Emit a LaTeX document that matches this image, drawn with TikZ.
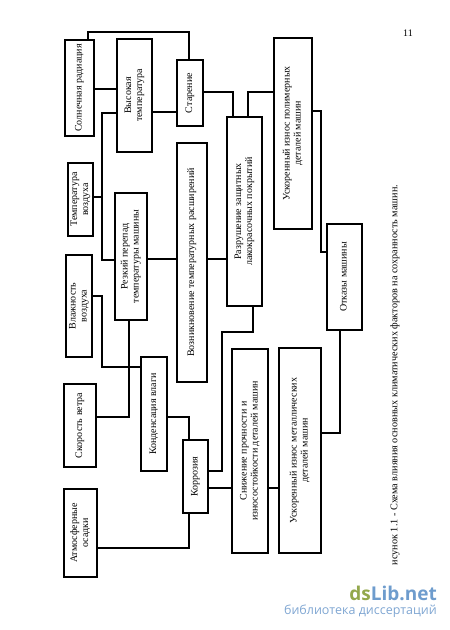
\documentclass[tikz,border=0pt]{standalone}
\usepackage{fontspec}
\setmainfont{Liberation Serif}
\newfontfamily\wmfont{Open Sans}
\usepackage{graphicx}
\definecolor{dsgreen}{HTML}{93A84C}
\definecolor{dsblue}{HTML}{6E9CCD}
\definecolor{dssub}{HTML}{7FA6D2}
\newcommand{\rtext}[1]{\rotatebox{90}{\begin{tabular}{@{}c@{}}#1\end{tabular}}}
\tikzset{
  box/.style={draw, line width=1.2pt, inner sep=0pt, font=\fontsize{10}{11}\selectfont},
  conn/.style={line width=1.2pt},
}
\begin{document}
\begin{tikzpicture}[x=1pt,y=-1pt]
\useasboundingbox (0,0) rectangle (450,630);
% boxes
\node[box, minimum width=29pt, minimum height=96pt] (solar) at (79.5,88) {\rtext{Солнечная радиация}};
\node[box, minimum width=35pt, minimum height=113pt] (high) at (134.5,95.5) {\rtext{Высокая\\температура}};
\node[box, minimum width=26pt, minimum height=66pt] (aging) at (190,93) {\rtext{Старение}};
\node[box, minimum width=30pt, minimum height=239pt] (expan) at (192,262.5) {\rtext{Возникновение температурных расширений}};
\node[box, minimum width=25pt, minimum height=73pt] (airT) at (80.5,199.5) {\rtext{Температура\\воздуха}};
\node[box, minimum width=32pt, minimum height=127pt] (sharp) at (131,256.5) {\rtext{Резкий перепад\\температуры машины}};
\node[box, minimum width=26pt, minimum height=102pt] (humid) at (79,306) {\rtext{Влажность\\воздуха}};
\node[box, minimum width=26pt, minimum height=114pt] (cond) at (154,414) {\rtext{Конденсация влаги}};
\node[box, minimum width=32pt, minimum height=83pt] (wind) at (80,425.5) {\rtext{Скорость ветра}};
\node[box, minimum width=25pt, minimum height=73pt] (corr) at (195.5,476.5) {\rtext{Коррозия}};
\node[box, minimum width=33pt, minimum height=88pt] (precip) at (80.5,533) {\rtext{Атмосферные\\осадки}};
\node[box, minimum width=35pt, minimum height=189pt] (destr) at (244.5,211.5) {\rtext{Разрушение защитных\\лакокрасочных покрытий}};
\node[box, minimum width=38pt, minimum height=191pt] (poly) at (293,133.5) {\rtext{Ускоренный износ полимерных\\деталей машин}};
\node[box, minimum width=35pt, minimum height=106pt] (fail) at (344.5,277) {\rtext{Отказы машины}};
\node[box, minimum width=36pt, minimum height=204pt] (strength) at (250,451) {\rtext{Снижение прочности и\\износостойкости деталей машин}};
\node[box, minimum width=42pt, minimum height=205pt] (metal) at (300,450.5) {\rtext{Ускоренный износ металлических\\деталей машин}};
% connectors
\draw[conn] (solar.north -| 88,0) -- (88,32) -- (189,32) -- (aging.north -| 189,0);
\draw[conn] (solar.east |- 0,89) -- (high.west |- 0,89);
\draw[conn] (high.east |- 0,112) -- (aging.west |- 0,112);
\draw[conn] (high.west |- 0,113) -- (102,113) |- (sharp.west |- 0,260);
\coordinate (j1) at (102,197);
\draw[conn] (airT.east |- j1) -- (j1);
\draw[conn] (aging.east |- 0,92) -| (destr.north -| 233,0);
\draw[conn] (destr.north -| 248,0) |- (poly.west |- 0,92);
\draw[conn] (poly.east |- 0,111) -- (321,111) |- (fail.west |- 0,252);
\draw[conn] (sharp.east |- 0,259) -- (expan.west |- 0,259);
\draw[conn] (expan.east |- 0,259) -- (destr.west |- 0,259);
\draw[conn] (sharp.south -| 129,0) |- (wind.east |- 0,417);
\draw[conn] (humid.east |- 0,296) -- (102,296) |- (cond.west |- 0,367);
\draw[conn] (cond.east |- 0,417) -| (corr.north -| 189,0);
\draw[conn] (corr.south -| 189,0) |- (precip.east |- 0,548);
\draw[conn] (corr.east |- 0,471) -- (222,471) -- (222,332) -| (destr.south -| 253,0);
\draw[conn] (corr.east |- 0,488) -- (strength.west |- 0,488);
\draw[conn] (strength.east |- 0,488) -- (metal.west |- 0,488);
\draw[conn] (metal.east |- 0,433) -| (fail.south -| 340,0);
% texts
\node[font=\fontsize{10}{12}\selectfont] (pg) at (408,33) {11};
\node[rotate=90, inner sep=0pt, font=\fontsize{10.2}{12}\selectfont] (cap) at (395,375) {исунок 1.1 - Схема влияния основных климатических факторов на сохранность машин.};
\node[anchor=base east, inner sep=0pt, font=\wmfont\bfseries\fontsize{19}{20}\selectfont] (wm) at (437,600) {\textcolor{dsgreen}{ds}\textcolor{dsblue}{Lib.net}};
\node[anchor=base east, inner sep=0pt, font=\wmfont\fontsize{12.5}{14}\selectfont, text=dssub] (wm2) at (437,614) {библиотека диссертаций};
\end{tikzpicture}
\end{document}
